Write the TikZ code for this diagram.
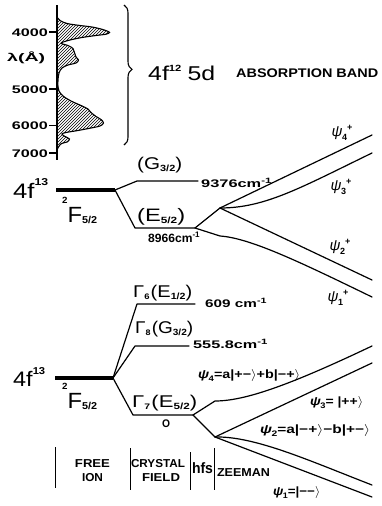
\documentclass[tikz,border=0pt]{standalone}
\usepackage{fontspec}
\setmainfont{Liberation Sans}
\usetikzlibrary{patterns,decorations.pathreplacing}
\newcommand\fw[2]{\resizebox{#1pt}{\height}{#2}}
\newcommand\fs[1]{\fontsize{#1}{#1}\selectfont}
\newcommand\cmi{cm\textsuperscript{-1}}
\newcommand\psu[2]{\textit{ψ}\kern-0.5pt\raisebox{-3.5pt}{\fs{9}\bfseries #1}\raisebox{6pt}{\fs{9}\bfseries #2}}
\newcommand\psk[1]{\textit{ψ}\kern-0.5pt\raisebox{-3pt}{\fs{8}#1}}
\newcommand\ket[1]{|#1$\rangle$}
\begin{document}
\begin{tikzpicture}[x=1pt,y=-1pt,
  lvl/.style={line width=1.2pt,line join=round,line cap=round},
  ground/.style={line width=3.6pt},
  lab/.style={inner sep=0pt,anchor=base west},
  labe/.style={inner sep=0pt,anchor=base east},
  capl/.style={inner sep=0pt,anchor=center},
  thinbar/.style={line width=1pt}]
\useasboundingbox (0,0) rectangle (381,506);

% ---------- spectrum ----------
\coordinate (ax1) at (57,5);
\coordinate (ax2) at (57,160);
\fill[pattern=north east lines] plot[smooth,tension=0.55] coordinates {
 (57,17) (60,20.5) (67,23.5) (80,25.5) (92,27) (101,29) (107,31) (109.5,32.5)
 (106,34.2) (96,35.5) (82,37.5) (70,40) (62,42.5) (62,43.8) (68,45.5) (73,48.5)
 (74.5,52.5) (76,57) (78.5,60) (76,63) (68,65) (62,68) (59,73) (58,80) (58,87)
 (59,91) (63,96) (71,101) (81,105.5) (88,109) (91,112.5) (96,116.5) (101,119.5)
 (103.5,123) (100,126) (91,128) (78,130.5) (66,132.5) (62,134) (65,136.5)
 (69.5,139) (67,142) (61.5,143.5) (58.5,147) (57,150)} -- cycle;
\draw[line width=1.1pt] plot[smooth,tension=0.55] coordinates {
 (57,17) (60,20.5) (67,23.5) (80,25.5) (92,27) (101,29) (107,31) (109.5,32.5)
 (106,34.2) (96,35.5) (82,37.5) (70,40) (62,42.5) (62,43.8) (68,45.5) (73,48.5)
 (74.5,52.5) (76,57) (78.5,60) (76,63) (68,65) (62,68) (59,73) (58,80) (58,87)
 (59,91) (63,96) (71,101) (81,105.5) (88,109) (91,112.5) (96,116.5) (101,119.5)
 (103.5,123) (100,126) (91,128) (78,130.5) (66,132.5) (62,134) (65,136.5)
 (69.5,139) (67,142) (61.5,143.5) (58.5,147) (57,150)};
\draw[line width=1.3pt] (ax1) -- (ax2);
\foreach \y in {32,89,125.5,153} \draw[line width=1.2pt] (57,\y) -- ++(-8,0);
\node[labe] (t4000) at (48,36) {\fw{36}{\fs{11}\bfseries 4000}};
\node[labe] (t5000) at (48,93) {\fw{36}{\fs{11}\bfseries 5000}};
\node[labe] (t6000) at (48,129.5) {\fw{36}{\fs{11}\bfseries 6000}};
\node[labe] (t7000) at (48,157) {\fw{36}{\fs{11}\bfseries 7000}};
\node[lab] (tlam) at (7,61) {\fw{38}{\fs{11}\bfseries λ(Å)}};

% brace
\coordinate (br1) at (124,5);
\coordinate (br2) at (124,145);
\draw[line width=1.1pt,decorate,decoration={brace,amplitude=8pt,aspect=0.46}] (br1) -- (br2);
\node[lab] (t4f12) at (148,80) {\fw{67}{\fs{20}4f\raisebox{9pt}{\fs{9}\bfseries 12}\hspace{5pt}5d}};
\node[lab] (tabs) at (236,77) {\fw{142}{\fs{12.5}\bfseries ABSORPTION BAND}};

% ---------- upper level scheme ----------
\coordinate (uA) at (56,190);
\coordinate (uB) at (115,190);
\coordinate (uG1) at (137,181);
\coordinate (uG2) at (198,181);
\coordinate (uE1) at (135,228);
\coordinate (uE2) at (195,228);
\coordinate (uH1) at (220,208);
\coordinate (uH2) at (220,236);
\coordinate (uP4) at (372,135);
\coordinate (uP3) at (372,153);
\coordinate (uP2) at (372,280);
\coordinate (uP1) at (372,297);
\draw[ground] (uA) -- (uB);
\draw[lvl] (uB) -- (uG1) -- (uG2);
\draw[lvl] (uB) -- (uE1) -- (uE2);
\draw[lvl] (uE2) -- (uH1);
\draw[lvl] (uH1) -- (uP4);
\draw[lvl] (uH1) .. controls (265,208) and (300,188) .. (uP3);
\draw[lvl] (uH1) -- (uP2);
\draw[lvl] (uE2) -- (uH2) .. controls (250,238) and (300,262) .. (uP1);

\node[lab] (u4f) at (13,198) {\fw{35}{\fs{21}4f\raisebox{13pt}{\fs{10}\bfseries 13}}};
\node[lab] (uF) at (62,222) {\fw{35}{\raisebox{19pt}{\fs{9}\bfseries 2}\fs{22}F\raisebox{-1.5pt}{\fs{10}\bfseries 5/2}}};
\node[lab] (uG) at (137,169) {\fw{45}{\fs{17}(G\raisebox{-2.5pt}{\fs{9}\bfseries 3/2})}};
\node[lab] (uE) at (137,221) {\fw{48}{\fs{18}(E\raisebox{-2.5pt}{\fs{9}\bfseries 5/2})}};
\node[lab] (u9376) at (201,187) {\fw{71}{\fs{11}\bfseries 9376\cmi}};
\node[lab] (u8966) at (148,242) {\fw{52}{\fs{12}\bfseries 8966\cmi}};
\node[capl] (up4) at (342,133) {\fs{15}\psu{4}{+}};
\node[capl] (up3) at (341,187) {\fs{15}\psu{3}{+}};
\node[capl] (up2) at (340,247) {\fs{15}\psu{2}{+}};
\node[capl] (up1) at (338,298) {\fs{15}\psu{1}{+}};

% ---------- lower level scheme ----------
\coordinate (lA) at (55,378);
\coordinate (lB) at (113,378);
\coordinate (l61) at (137,304);
\coordinate (l62) at (195,304);
\coordinate (l81) at (135,346);
\coordinate (l82) at (189,346);
\coordinate (l71) at (133,415);
\coordinate (l72) at (193,415);
\coordinate (lH1) at (215,401);
\coordinate (lH2) at (215,437);
\coordinate (lP4) at (372,346);
\coordinate (lP3) at (372,363);
\coordinate (lP2) at (372,485);
\coordinate (lP1) at (372,497);
\draw[ground] (lA) -- (lB);
\draw[lvl] (lB) -- (l61) -- (l62);
\draw[lvl] (lB) -- (l81) -- (l82);
\draw[lvl] (lB) -- (l71) -- (l72);
\draw[lvl] (l72) -- (lH1) .. controls (245,401) and (290,385) .. (lP4);
\draw[lvl] (l72) -- (lH2);
\draw[lvl] (lH2) -- (lP3);
\draw[lvl] (lH2) .. controls (255,436) and (310,461) .. (lP2);
\draw[lvl] (lH2) -- (lP1);

\node[lab] (l4f) at (13,386) {\fw{32}{\fs{21}4f\raisebox{12pt}{\fs{10}\bfseries 13}}};
\node[lab] (lF) at (62,408) {\fw{35}{\raisebox{19pt}{\fs{9}\bfseries 2}\fs{22}F\raisebox{-1.5pt}{\fs{10}\bfseries 5/2}}};
\node[lab] (lG6) at (133,297) {\fw{59}{\fs{17}Γ\raisebox{-2pt}{\fs{8}\bfseries 6}\kern1pt(E\raisebox{-2.5pt}{\fs{9}\bfseries 1/2})}};
\node[lab] (lG8) at (135,333) {\fw{58}{\fs{17}Γ\raisebox{-2pt}{\fs{8}\bfseries 8}\kern1pt(G\raisebox{-2.5pt}{\fs{9}\bfseries 3/2})}};
\node[lab] (lG7) at (132,407) {\fw{65}{\fs{17}Γ\raisebox{-2pt}{\fs{8}\bfseries 7}\kern1pt(E\raisebox{-2.5pt}{\fs{9}\bfseries 5/2})}};
\node[lab] (l609) at (205,307) {\fw{62}{\fs{11}\bfseries 609 \cmi}};
\node[lab] (l555) at (193,348) {\fw{75}{\fs{11}\bfseries 555.8\cmi}};
\node[capl] (l0) at (166,424) {\fw{8}{\fs{11}\bfseries O}};
\node[lab] (lk4) at (198,378) {\fw{102}{\fs{12}\bfseries \psk{4}=a\ket{+−}+b\ket{−+}}};
\node[lab] (lk3) at (310,405) {\fw{53}{\fs{12}\bfseries \psk{3}= \ket{++}}};
\node[lab] (lk2) at (260,433) {\fw{110}{\fs{12}\bfseries \psk{2}=a\ket{−+}−b\ket{+−}}};
\node[lab] (lk1) at (273,495) {\fw{47}{\fs{12}\bfseries \psk{1}=\ket{−−}}};

% ---------- column labels ----------
\draw[thinbar] (55,447) -- (55,488);
\draw[thinbar] (130,448) -- (130,490);
\draw[thinbar] (190,452) -- (190,490);
\draw[thinbar] (214,448) -- (214,490);
\node[capl] (cfree) at (92.5,464) {\fw{35}{\fs{11.5}\bfseries FREE}};
\node[capl] (cion) at (92.5,478) {\fw{21}{\fs{11.5}\bfseries ION}};
\node[capl] (ccry) at (158,464) {\fw{54}{\fs{11.5}\bfseries CRYSTAL}};
\node[capl] (cfie) at (161,478) {\fw{38}{\fs{11.5}\bfseries FIELD}};
\node[capl] (chfs) at (202.5,468) {\fw{21}{\fs{15}\bfseries hfs}};
\node[capl] (czee) at (243.5,472.5) {\fw{53}{\fs{11.5}\bfseries ZEEMAN}};
\end{tikzpicture}
\end{document}
